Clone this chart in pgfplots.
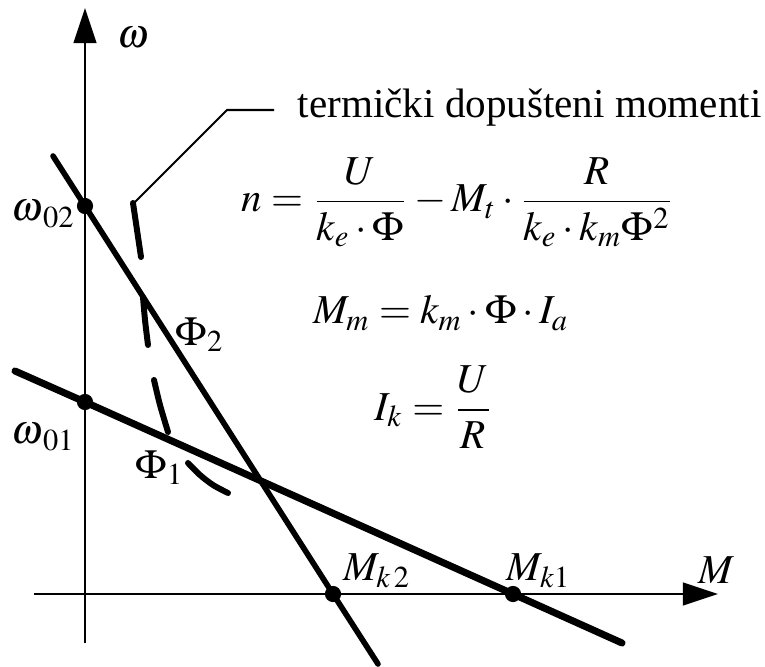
\documentclass[border=0pt]{standalone}
\usepackage{mathptmx}
\usepackage[no-math]{fontspec}
\setmainfont{Liberation Serif}
\usepackage{pgfplots}
\pgfplotsset{compat=1.18}
\usetikzlibrary{arrows.meta}

% pixel-like data coordinates: x = px, y = 664 - py
\pgfplotstableread{
x y
53 508
85 458
333 70
378 0
}\phitwo
\pgfplotstableread{
x y
15 293
85 262
513 70
622 21
}\phione

\begin{document}
\begin{tikzpicture}[
    lbl/.style={inner sep=0pt, font=\fontsize{11.7}{14}\selectfont},
  ]
\begin{axis}[
    width=7.65cm, height=6.64cm,
    scale only axis,
    xmin=0, xmax=765, ymin=0, ymax=664,
    hide axis,
    clip=false,
  ]
  \path (axis cs:0,0) rectangle (axis cs:765,664);

  % axes with arrows
  \addplot[black, line width=0.8pt, -{Triangle[length=10pt,width=6.4pt]}]
    coordinates {(85,21) (85,656)};
  \addplot[black, line width=0.8pt, -{Triangle[length=10pt,width=6.4pt]}]
    coordinates {(34,70) (718,70)};

  % characteristics
  \addplot[black, line width=1.6pt, line cap=round] table {\phitwo};
  \addplot[black, line width=2.0pt, line cap=round] table {\phione};

  % thermally permitted torques (dashed curve)
  \addplot[black, line width=1.7pt, line cap=round, smooth, unbounded coords=jump]
    coordinates {
      (133,461) (137,434) (141,407)
      (nan,nan)
      (143,367) (145,344) (148,319)
      (nan,nan)
      (154,284) (160,259) (168,232)
      (nan,nan)
      (188,201) (200,189) (213,179) (228,171)
    };

  % leader line
  \addplot[black, line width=0.6pt] coordinates {(135,462) (227,554) (274,554)};

  % points
  \addplot[only marks, mark=*, mark size=2.1pt, black]
    coordinates {(85,458) (85,262) (333,70) (513,70)};

  % labels
  \node[lbl] at (axis cs:133,626) {$\omega$};
  \node[lbl] at (axis cs:716,94) {$M$};
  \node[lbl, anchor=east] at (axis cs:76,450) {$\omega_{\,02}$};
  \node[lbl, anchor=east] at (axis cs:76,227) {$\omega_{\,01}$};
  \node[lbl] at (axis cs:200,329) {$\Phi_2$};
  \node[lbl] at (axis cs:160,196) {$\Phi_1$};
  \node[lbl] at (axis cs:377,93) {$M_{k\,2}$};
  \node[lbl] at (axis cs:539,93) {$M_{k1}$};

  \node[lbl, anchor=base west] at (axis cs:297,546) {termički dopušteni momenti};
  \node[lbl] at (axis cs:458,462)
    {$\displaystyle n=\frac{U}{k_e\cdot\Phi}-M_t\cdot\frac{R}{k_e\cdot k_m\Phi^2}$};
  \node[lbl] at (axis cs:441,351) {$M_m=k_m\cdot\Phi\cdot I_a$};
  \node[lbl] at (axis cs:434,257) {$\displaystyle I_k=\frac{U}{R}$};
\end{axis}
\end{tikzpicture}
\end{document}
